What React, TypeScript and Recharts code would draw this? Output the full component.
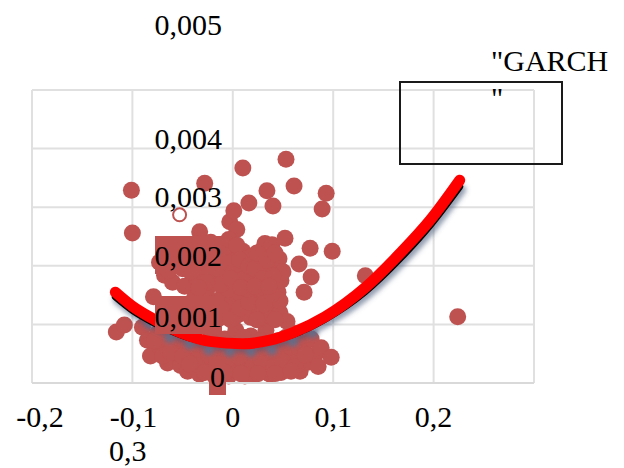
import React from 'react';
import { ComposedChart, Scatter, Line, XAxis, YAxis, CartesianGrid } from 'recharts';

const FONT = '"Liberation Serif", "Times New Roman", serif';
const DOT = '#BE5250';

const X_TICKS = [-0.2, -0.1, 0, 0.1, 0.2, 0.3];
const Y_TICKS = [0, 0.001, 0.002, 0.003, 0.004, 0.005];

type Pair = [number, number];

const outliers: Pair[] = [
  [0.01, 0.00367], [0.053, 0.00382], [0.061, 0.00336], [0.034, 0.00328], [0.04, 0.00302],
  [0.016, 0.00307], [0.093, 0.00324], [0.089, 0.00297], [-0.101, 0.00329], [-0.1, 0.00256],
  [-0.028, 0.00341], [0.001, 0.00294], [0.077, 0.0023], [0.099, 0.00225], [0.066, 0.00203],
  [0.052, 0.00247], [0.078, 0.00181], [0.071, 0.00155], [0.132, 0.00183], [0.224, 0.00113],
  [-0.116, 0.00087], [-0.108, 0.00099], [-0.079, 0.00147],
];

const upperCluster: Pair[] = [
  [-0.073, 0.00206], [-0.068, 0.00184], [-0.062, 0.00212], [-0.06, 0.00172], [-0.055, 0.0023],
  [-0.05, 0.00195], [-0.045, 0.00225], [-0.048, 0.00165], [-0.04, 0.00205], [-0.036, 0.00178],
  [-0.033, 0.00258], [-0.03, 0.00222], [-0.025, 0.00195], [-0.022, 0.0024], [-0.018, 0.0017],
  [-0.015, 0.00212], [-0.01, 0.00235], [-0.008, 0.00188], [-0.004, 0.0016], [-0.003, 0.00275],
  [0.0, 0.00225], [0.003, 0.00205], [0.004, 0.00262], [0.006, 0.00175], [0.01, 0.00225],
  [0.012, 0.00195], [0.015, 0.0016], [0.018, 0.00215], [0.022, 0.0018], [0.026, 0.00205],
  [0.028, 0.00225], [0.032, 0.00238], [0.034, 0.0019], [0.038, 0.00215], [0.039, 0.00236],
  [0.042, 0.00198], [0.046, 0.00212], [0.048, 0.00175], [0.05, 0.0019],
  [-0.064, 0.00192], [-0.056, 0.00205], [-0.05, 0.00218], [-0.042, 0.0019], [-0.036, 0.00238],
  [-0.032, 0.002], [-0.026, 0.00215], [-0.02, 0.00183], [-0.014, 0.00195], [-0.01, 0.0022],
  [-0.005, 0.00205], [-0.004, 0.00245], [0.001, 0.0019], [0.004, 0.00235], [0.007, 0.0021],
  [0.012, 0.00178], [0.016, 0.002], [0.022, 0.00195], [0.024, 0.00222], [0.03, 0.00178],
  [0.034, 0.0021], [0.042, 0.00222], [0.04, 0.00182], [-0.012, 0.00168], [-0.026, 0.00172],
  [-0.002, 0.00178], [0.008, 0.00163], [0.022, 0.00165], [0.036, 0.00165], [-0.034, 0.00162],
];

const middleCluster: Pair[] = [
  [-0.038, 0.00145], [-0.03, 0.0012], [-0.026, 0.0015], [-0.02, 0.00135], [-0.014, 0.0011],
  [-0.01, 0.00148], [-0.005, 0.00125], [0.0, 0.0014], [0.004, 0.00115], [0.008, 0.0015],
  [0.012, 0.0013], [0.018, 0.00112], [0.022, 0.00145], [0.027, 0.00125], [0.032, 0.0015],
  [0.036, 0.00115], [0.04, 0.00135], [0.045, 0.00155], [0.047, 0.0012], [0.047, 0.0014],
  [0.054, 0.00105],
  [-0.042, 0.00125], [-0.035, 0.00105], [-0.022, 0.00112], [-0.012, 0.00128], [-0.002, 0.00108],
  [0.007, 0.00128], [0.016, 0.00138], [0.024, 0.00108], [0.031, 0.00135], [0.039, 0.00152],
  [0.042, 0.00108], [-0.048, 0.00105], [-0.056, 0.00112],
];

const bottomBand: Pair[] = [
  [-0.09, 0.00095], [-0.085, 0.00073], [-0.082, 0.00046], [-0.075, 0.00085], [-0.072, 0.0006],
  [-0.066, 0.00075], [-0.065, 0.00034], [-0.058, 0.0009], [-0.056, 0.0005], [-0.052, 0.0003],
  [-0.048, 0.00068], [-0.045, 0.0002], [-0.04, 0.00045], [-0.038, 0.0009], [-0.033, 0.00015],
  [-0.03, 0.00062], [-0.026, 0.0003], [-0.022, 0.00085], [-0.018, 0.00012], [-0.015, 0.0005],
  [-0.012, 0.00025], [-0.008, 0.00075], [-0.004, 0.00012], [-0.002, 0.00042], [0.003, 0.0009],
  [0.005, 0.0002], [0.008, 0.0006], [0.012, 0.00012], [0.015, 0.00035], [0.018, 0.0008],
  [0.022, 0.00014], [0.026, 0.00055], [0.03, 0.00025], [0.033, 0.0009], [0.037, 0.00015],
  [0.04, 0.00042], [0.045, 0.00072], [0.048, 0.00018], [0.052, 0.0005], [0.056, 0.00028],
  [0.06, 0.00085], [0.063, 0.00045], [0.067, 0.0002], [0.07, 0.00065], [0.074, 0.00035],
  [0.078, 0.00075], [0.082, 0.00048], [0.085, 0.00028], [0.088, 0.0006], [0.098, 0.00044],
  [-0.078, 0.00072], [-0.06, 0.00065], [-0.055, 0.00078], [-0.046, 0.00052], [-0.042, 0.00078],
  [-0.036, 0.00032], [-0.034, 0.00058], [-0.024, 0.00048], [-0.02, 0.00068], [-0.016, 0.00035],
  [-0.01, 0.00056], [-0.006, 0.0003], [0.0, 0.0006], [0.006, 0.00045], [0.01, 0.00078],
  [0.018, 0.00055], [0.02, 0.00028], [0.028, 0.0004], [0.028, 0.00072], [0.036, 0.0006],
  [0.041, 0.00028], [0.046, 0.00055], [0.05, 0.00036], [0.053, 0.00078], [0.058, 0.00062],
  [0.062, 0.00028], [0.066, 0.0006], [0.072, 0.00048], [0.064, 0.00075], [-0.07, 0.00046],
  [-0.062, 0.00052], [-0.05, 0.00045], [-0.043, 0.00032], [-0.028, 0.00018], [-0.008, 0.00018],
  [0.008, 0.00016], [0.025, 0.00016], [0.042, 0.00016], [0.058, 0.0002],
];

const hollowPoint: Pair[] = [[-0.053, 0.00287]];

const redCurve: Pair[] = [
  [-0.117, 0.00155], [-0.1, 0.00131], [-0.08, 0.0011], [-0.063, 0.00094], [-0.043, 0.0008],
  [-0.023, 0.00071], [0.01, 0.00067], [0.037, 0.00073], [0.06, 0.00086], [0.092, 0.00113],
  [0.132, 0.00163], [0.167, 0.00222], [0.197, 0.00279], [0.226, 0.00346],
];

const blackCurve: Pair[] = [
  [-0.117, 0.00147], [-0.1, 0.00124], [-0.08, 0.00104], [-0.063, 0.0009], [-0.043, 0.00077],
  [-0.023, 0.00069], [0.01, 0.00065], [0.037, 0.00071], [0.06, 0.00083], [0.092, 0.00109],
  [0.132, 0.00156], [0.167, 0.00213], [0.197, 0.0027], [0.226, 0.00335],
];

const curveMarkers: Pair[] = [
  [-0.083, 0.00101], [-0.063, 0.00077], [-0.043, 0.00066], [-0.024, 0.00056], [-0.003, 0.00053],
  [0.018, 0.00053], [0.039, 0.00056], [0.06, 0.0007], [0.08, 0.00085],
];

const toPoints = (pairs: Pair[]) => pairs.map(([x, y]) => ({ x, y }));

const allDots = toPoints([...bottomBand, ...middleCluster, ...upperCluster, ...outliers]);

const labelStyle = { fontFamily: FONT, fontSize: 30, fill: '#000' };

function renderXTick({ x, payload }: any) {
  const v = payload.value;
  const text = v === 0 ? '0' : v.toFixed(1).replace('.', ',');
  // the 0,3 label wrapped under -0,1 in the original
  if (v === 0.3) {
    return <text x={109} y={461} {...labelStyle}>{text}</text>;
  }
  const shift = v === -0.2 ? 8 : v === -0.1 ? 1 : 0;
  return <text x={x + shift} y={427} textAnchor="middle" {...labelStyle}>{text}</text>;
}

function renderYTick({ y, payload }: any) {
  const v = payload.value;
  if (v === 0) {
    return (
      <g>
        <rect x={209} y={357} width={17} height={38} fill={DOT} />
        <text x={225} y={387} textAnchor="end" {...labelStyle}>0</text>
      </g>
    );
  }
  const text = v.toFixed(3).replace('.', ',');
  const baseline = v === 0.005 ? 35 : v === 0.001 ? y + 3 : y;
  const shaded = v === 0.001 || v === 0.002;
  return (
    <g>
      {shaded && <rect x={155} y={v === 0.001 ? 296 : 236} width={67} height={38} fill={DOT} />}
      <text x={222} y={baseline} textAnchor="end" {...labelStyle}>{text}</text>
    </g>
  );
}

const solidDot = (p: any) => <circle cx={p.cx} cy={p.cy} r={8.5} fill={DOT} />;
const hollowDot = (p: any) => (
  <circle cx={p.cx} cy={p.cy} r={6.5} fill="#fff" stroke={DOT} strokeWidth={2} />
);
const blurredDot = (p: any) => (
  <circle cx={p.cx} cy={p.cy} r={5} fill="#5F6F8F" fillOpacity={0.8} filter="url(#soft)" />
);

export default function App() {
  return (
    <div style={{ position: 'absolute', left: 0, top: 0, width: 624, height: 468 }}>
      <ComposedChart
        width={624}
        height={468}
        margin={{ top: 90, right: 90, bottom: 84, left: 31 }}
      >
        <defs>
          <filter id="soft" x="-60%" y="-60%" width="220%" height="220%">
            <feGaussianBlur stdDeviation="2" />
          </filter>
          <filter id="shadow" x="-10%" y="-10%" width="120%" height="120%">
            <feOffset dx="2" dy="3" />
            <feGaussianBlur stdDeviation="2.5" />
          </filter>
        </defs>
        <CartesianGrid stroke="#E0E0E0" strokeWidth={2} />
        <XAxis
          type="number"
          dataKey="x"
          domain={[-0.2, 0.3]}
          ticks={X_TICKS}
          height={1}
          tickLine={false}
          axisLine={{ stroke: '#D9D9D9', strokeWidth: 2 }}
          tick={renderXTick}
          interval={0}
          zIndex={700}
        />
        <YAxis
          type="number"
          dataKey="y"
          domain={[0, 0.005]}
          ticks={Y_TICKS}
          width={1}
          tickLine={false}
          axisLine={false}
          tick={renderYTick}
          interval={0}
          zIndex={700}
        />
        <Scatter data={allDots} shape={solidDot} isAnimationActive={false} zIndex={100} />
        <Scatter data={toPoints(hollowPoint)} shape={hollowDot} isAnimationActive={false} zIndex={100} />
        <Line
          data={toPoints(blackCurve)}
          dataKey="y"
          type="monotone"
          stroke="#4A5A7A"
          strokeOpacity={0.6}
          strokeWidth={9}
          strokeLinecap="round"
          dot={false}
          filter="url(#shadow)"
          isAnimationActive={false}
          zIndex={200}
        />
        <Scatter data={toPoints(curveMarkers)} shape={blurredDot} isAnimationActive={false} zIndex={300} />
        <Line
          data={toPoints(blackCurve)}
          dataKey="y"
          type="monotone"
          stroke="#000"
          strokeWidth={7}
          strokeLinecap="round"
          dot={false}
          isAnimationActive={false}
          zIndex={400}
        />
        <Line
          data={toPoints(redCurve)}
          dataKey="y"
          type="monotone"
          stroke="#FF0000"
          strokeWidth={11}
          strokeLinecap="round"
          dot={false}
          isAnimationActive={false}
          zIndex={500}
        />
        <rect x={400} y={82} width={162} height={82} fill="none" stroke="#1a1a1a" strokeWidth={2} />
        <text x={491} y={71} {...labelStyle}>"GARCH</text>
        <text x={491} y={108} {...labelStyle}>"</text>
      </ComposedChart>
    </div>
  );
}
